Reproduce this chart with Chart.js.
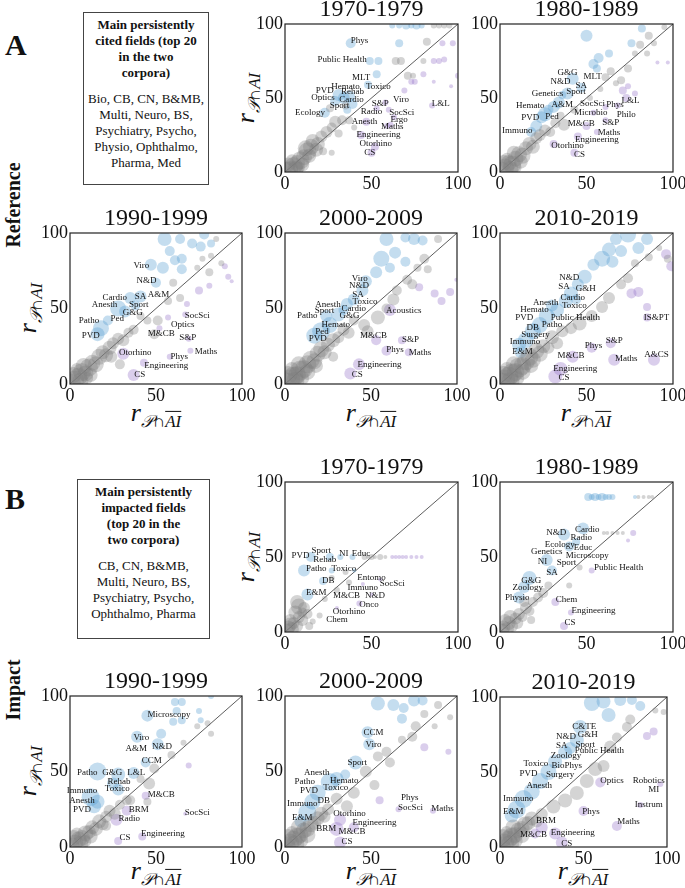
<!DOCTYPE html>
<html>
<head>
<meta charset="utf-8">
<script src="https://cdn.jsdelivr.net/npm/chart.js"></script>
<style>
  body { margin: 0; background: #fff; }
  #page { position: relative; width: 685px; height: 888px; font-family: "Liberation Serif", serif; color: #111; }
  .sec { position: absolute; font-weight: bold; font-size: 30px; }
  .side { position: absolute; font-weight: bold; font-size: 20px; transform: translate(-50%, -50%) rotate(-90deg); white-space: nowrap; }
  .box { position: absolute; border: 1.5px solid #444; box-sizing: border-box; text-align: center; font-size: 13px; line-height: 16px; padding-top: 4px; }
  .box b { display: block; margin-bottom: 10px; }
  .ax { position: absolute; white-space: nowrap; font-size: 26px; font-style: italic; transform: translate(-50%, -50%); }
  .ax.v { transform: translate(-50%, -50%) rotate(-90deg); }
  .ax sub { font-size: 17px; }
  .ov { text-decoration: overline; }
</style>
</head>
<body>
<div id="page">
  <div class="sec" style="left:5px;top:28px">A</div>
  <div class="side" style="left:13px;top:205px">Reference</div>
  <div class="sec" style="left:5px;top:482px">B</div>
  <div class="side" style="left:13px;top:690px">Impact</div>

  <div class="box" style="left:83px;top:12px;width:126px;height:173px">
    <b>Main persistently<br>cited fields (top 20<br>in the two<br>corpora)</b>
    Bio, CB, CN, B&amp;MB,<br>Multi, Neuro, BS,<br>Psychiatry, Psycho,<br>Physio, Ophthalmo,<br>Pharma, Med
  </div>
  <div class="box" style="left:77px;top:479px;width:133px;height:160px">
    <b>Main persistently<br>impacted fields<br>(top 20 in the<br>two corpora)</b>
    CB, CN, B&amp;MB,<br>Multi, Neuro, BS,<br>Psychiatry, Psycho,<br>Ophthalmo, Pharma
  </div>

  <div class="ax v" style="left:248px;top:98px">r<sub>𝒫∩AI</sub></div>
  <div class="ax v" style="left:30px;top:308px">r<sub>𝒫∩AI</sub></div>
  <div class="ax v" style="left:248px;top:557px">r<sub>𝒫∩AI</sub></div>
  <div class="ax v" style="left:30px;top:771px">r<sub>𝒫∩AI</sub></div>
  <div class="ax" style="left:156px;top:415px">r<sub>𝒫∩<span class="ov">AI</span></sub></div>
  <div class="ax" style="left:371px;top:415px">r<sub>𝒫∩<span class="ov">AI</span></sub></div>
  <div class="ax" style="left:586px;top:415px">r<sub>𝒫∩<span class="ov">AI</span></sub></div>
  <div class="ax" style="left:156px;top:873px">r<sub>𝒫∩<span class="ov">AI</span></sub></div>
  <div class="ax" style="left:371px;top:873px">r<sub>𝒫∩<span class="ov">AI</span></sub></div>
  <div class="ax" style="left:583px;top:873px">r<sub>𝒫∩<span class="ov">AI</span></sub></div>
</div>
<script>
// axis range and ticks shared by every panel
var axisMin = 0, axisMax = 100, tickStep = 50;
var diag = [0, 100];

// ---- A (Reference) ----  points are [x, y, r]
var a70Grey = [[1,1,9],[3,2,8],[5,4,9],[7,6,8],[9,8,9],[11,10,8],[13,14,9],[15,17,8],[16,21,7],[19,19,7],[21,24,6],[24,27,6],[27,30,5],[29,34,6],[33,35,5],[37,35,4],[31,26,4],[40,30,3],[22,14,4],[27,13,3],[4,8,6],[8,3,6],[2,5,7],[6,2,8],[10,5,7],[12,16,8],[14,11,7],[18,15,7],[64,75,4],[67,75,4],[80,75,3],[82,88,4],[71,65,4],[74,65,3],[86,99,3],[89,99,3],[92,99,3],[95,99,3],[35,45,4],[26,43,4]];
var a70Blue = [[62,99,3],[66,99,3],[70,99,4],[73,99,3],[76,99,4],[79,99,3],[38,87,5],[66,87,4],[49,75,4],[54,75,4],[53,66,4],[48,59,4],[31,52,6],[34,50,6],[37,51,6],[29,48,5],[39,46,5],[23,40,5],[36,42,4]];
var a70Purple = [[91,87,3],[97,87,3],[86,75,3],[89,75,3],[92,76,3],[80,66,3],[73,61,3],[75,61,3],[86,61,2],[69,55,3],[100,65,3],[96,58,2],[53,43,3],[60,42,3],[63,37,3],[59,31,3],[47,34,4],[44,25,4],[52,17,4],[50,13,4],[61,32,3],[85,45,3],[58,47,3]];
var a70Names = [['Phys',43,89],['Public Health',33,76],['MLT',44,64],['Hemato',35,58],['Toxico',54,58],['PVD',23,55],['Rehab',39,54],['Optics',22,50],['Cardio',38.5,49],['Sport',31.5,45],['Ecology',14.5,40],['S&P',55,46],['Viro',67,49],['L&L',90,46],['Radio',50,41],['SocSci',67.5,40],['Anesth',46,34],['Ergo',66,35.5],['Maths',62,30.5],['Engineering',54,25],['Otorhino',52.5,19],['CS',49,13]];

var a80Grey = [[1,1,9],[3,3,9],[5,6,8],[7,5,9],[9,9,8],[11,12,8],[13,11,8],[15,16,7],[17,19,7],[19,17,7],[21,23,6],[23,25,6],[26,28,6],[29,27,5],[32,33,5],[37,32,6],[35,38,4],[43,42,4],[4,9,6],[9,3,6],[2,6,8],[6,2,8],[12,7,7],[8,13,7],[95,98,3],[86,92,4],[81,86,4],[89,87,3],[85,80,3],[78,80,3],[74,70,4],[64,68,4],[61,64,4],[70,62,4],[67,60,3],[58,56,3],[52,50,3]];
var a80Blue = [[50,92,6],[82,97,4],[76,87,4],[63,80,4],[57,77,5],[54,73,5],[56,70,4],[42,63,6],[47,57,5],[39,53,6],[34,47,6],[31,44,6],[26,39,7],[24,37,6],[21,31,6],[18,27,5],[28,42,5],[36,52,4]];
var a80Purple = [[91,74,2],[97,74,2],[74,58,3],[71,55,4],[78,53,3],[73,50,4],[68,45,3],[54,40,3],[61,44,3],[50,31,4],[61,35,3],[56,27,3],[45,24,4],[31,19,4],[43,13,4]];
var a80Names = [['G&G',39,67],['N&D',35,61],['MLT',53.5,64.5],['SA',47,58.5],['Genetics',27.5,53],['Sport',44,54],['Hemato',17.5,44.5],['A&M',36,45.5],['SocSci',53.5,46.5],['Phys',66.5,45.5],['L&L',75.5,48.5],['Microbio',52.5,40],['Philo',73,39],['PVD',17.5,36.5],['Ped',30,37.5],['M&CB',47,33],['S&P',64,33.5],['Immuno',10,28],['Maths',63,26.5],['Engineering',56,22],['Otorhino',39,17.5],['CS',46,11.5]];

var a90Grey = [[1,1,9],[3,3,9],[5,5,9],[7,8,9],[9,7,8],[11,11,9],[13,14,8],[15,13,8],[17,18,8],[19,21,7],[21,19,7],[23,24,7],[25,27,6],[28,30,6],[31,29,6],[34,34,5],[37,36,5],[24,18,6],[29,13,5],[4,10,6],[10,4,6],[2,6,8],[6,2,8],[8,12,8],[12,6,7],[85,96,3],[82,85,3],[77,83,3],[81,74,4],[74,77,3],[60,67,4],[64,57,4],[57,55,4],[51,42,5],[45,42,4],[49,33,5],[41,45,4],[88,80,3]];
var a90Blue = [[55,96,7],[64,96,5],[71,93,5],[78,99,5],[76,91,5],[82,93,4],[58,88,5],[61,82,5],[65,83,5],[54,77,6],[65,76,5],[47,79,6],[50,67,5],[41,58,6],[35,57,6],[28,50,8],[32,48,6],[38,52,5],[18,37,8],[16,33,7],[22,42,5]];
var a90Purple = [[90,78,3],[92,71,3],[94,68,2],[81,65,3],[75,62,4],[68,53,3],[67,46,3],[57,44,3],[52,37,3],[69,30,3],[70,22,3],[58,18,3],[31,20,6],[43,14,4],[37,6,6]];
var a90Names = [['Viro',41.5,78.5],['N&D',44.5,68.5],['SA',41,58],['A&M',51.5,59.5],['Cardio',26,57.5],['Anesth',20,52.5],['Sport',40,52.5],['G&G',36.5,47.5],['Ped',27.5,43.5],['Patho',11,42],['PVD',12,32],['SocSci',74,45.5],['Optics',65.5,39.5],['M&CB',53,33.5],['S&P',68.5,30.5],['Otorhino',38,21],['Phys',63.5,18],['Maths',79,21.5],['Engineering',56,12],['CS',40.5,6.5]];

var a00Grey = [[1,1,10],[3,3,10],[5,5,10],[7,6,9],[9,9,10],[11,10,9],[13,13,9],[15,16,9],[17,15,8],[19,20,8],[21,23,8],[23,21,7],[25,26,7],[28,29,7],[31,31,6],[34,36,6],[37,34,6],[4,10,7],[10,4,7],[2,6,9],[6,2,9],[8,13,8],[13,8,8],[18,12,7],[89,96,4],[81,83,5],[83,76,4],[77,77,4],[71,69,5],[74,66,5],[65,62,5],[63,56,6],[59,50,5],[54,44,7],[46,39,6],[48,35,6],[40,42,5],[28,18,5]];
var a00Blue = [[59,96,7],[70,97,5],[75,96,6],[80,95,5],[64,87,6],[56,83,8],[70,81,5],[61,77,5],[53,74,6],[47,68,6],[45,62,6],[40,56,6],[36,53,6],[31,46,7],[26,39,8],[21,35,9],[17,32,8],[24,45,6],[34,49,5]];
var a00Purple = [[99.6,69,2],[96,61,4],[91,55,4],[87,60,4],[78,64,4],[61,49,6],[53,29,5],[68,29,4],[59,22,5],[72,21,4],[43,13,6],[38,7,6]];
var a00Names = [['Viro',43.5,70],['N&D',43,65],['SA',42.5,59.5],['Toxico',46.5,54.5],['Anesth',25,52.5],['Cardio',40,50],['Sport',23,48.5],['G&G',37.5,45],['Patho',13,45],['Hemato',29.5,39.5],['Ped',21.5,34.5],['PVD',19,30],['Acoustics',69,48.5],['M&CB',51.5,32],['S&P',73,29.5],['Phys',64,22.5],['Maths',78.5,21],['Engineering',55,13],['CS',42,6.5]];

var a10Grey = [[1,1,10],[3,3,10],[5,5,10],[7,7,10],[9,8,9],[11,11,10],[13,12,9],[15,15,9],[17,18,9],[19,16,8],[21,22,8],[23,20,8],[25,25,7],[4,10,7],[10,4,7],[2,6,9],[6,2,9],[8,13,8],[13,8,8],[18,12,7],[97,83,4],[92,90,3],[74,70,5],[70,66,5],[63,57,6],[59,51,6],[53,45,6],[46,40,7],[41,37,6],[36,35,6],[30,31,7],[28,24,6],[33,27,6],[78,80,4],[86,84,4]];
var a10Blue = [[74,99,8],[85,96,6],[67,96,6],[80,90,6],[63,89,7],[70,88,6],[59,83,8],[65,81,6],[54,79,6],[49,71,7],[45,66,6],[41,60,7],[38,55,7],[33,49,7],[27,45,8],[23,39,8],[19,35,8],[15,29,8],[11,26,7],[12,21,6],[30,52,6],[44,56,5]];
var a10Purple = [[96,86,5],[99,78,5],[76,60,5],[80,61,5],[85,51,4],[85,44,4],[64,27,5],[53,24,5],[42,18,6],[66,16,6],[89,16,6],[35,10,7],[32,5,7]];
var a10Names = [['N&D',40,70.5],['SA',37,64.5],['G&H',49.5,63],['Cardio',42,57.5],['Anesth',26.5,54],['Toxico',43,52],['Hemato',20,49],['PVD',14,44],['Public Health',43.5,44],['DB',19,37.5],['Patho',30,39.5],['Surgery',20.5,32.5],['Immuno',14.5,28],['E&M',13,21.5],['IS&PT',90.5,44],['S&P',66,29],['Phys',54,25.5],['M&CB',41,18.5],['Maths',73,17],['A&CS',90.5,19.5],['Engineering',43.5,10.5],['CS',37,4]];

// ---- B (Impact) ----
var b70Grey = [[1,1,7],[2,3,7],[4,2,7],[5,6,6],[7,4,6],[3,8,6],[8,10,6],[8,17,8],[7,20,7],[11,16,6],[13,12,5],[16,7,3],[6,13,7],[3,5,7],[10,8,6],[23,22,3],[35,40,3],[37,33,3],[30,28,3],[27,36,3],[46,50,3],[48,50,2],[50,50,3],[52,50,2],[55,50,3],[58,50,2],[20,11,3],[14,4,4],[10,13,5]];
var b70Blue = [[15,50,5],[26,50,4],[32,50,3],[39,50,3],[11,41,6],[27,41,3],[22,34,4],[13,25,6],[40,41,2]];
var b70Purple = [[62,50,2],[64,50,2],[66,50,2],[68,50,2],[70,50,2],[73,50,2],[76,50,2],[79,50,2],[45,32,2],[43,19,3],[30,16,2],[50,25,2],[55,35,2]];
var b70Names = [['PVD',9,51],['Sport',21,54],['Rehab',23,48.5],['NI',34,52],['Educ',44,52],['Patho',18,42.5],['Toxico',34,42.5],['DB',25,34.5],['Entomo',50,36.5],['SocSci',62,32],['Immuno',45,29.5],['E&M',18,26],['M&CB',35.5,24],['N&D',52,24],['Onco',48.5,18],['Otorhino',37,13.5],['Chem',30,8.5]];

var b80Grey = [[1,1,7],[2,3,7],[4,2,7],[5,6,7],[7,4,6],[3,8,6],[9,9,6],[11,12,6],[13,10,5],[15,16,6],[17,14,5],[19,20,5],[22,23,5],[25,26,5],[28,31,4],[6,10,7],[10,6,6],[40,31,3],[46,43,3],[80,90,2],[83,90,2],[86,90,2],[88,90,2],[60,66,2],[62,66,2],[65,66,2],[68,66,2],[71,66,2],[18,8,4],[14,20,5]];
var b80Blue = [[51,90,4],[53,90,3],[55,90,4],[57,90,3],[59,90,4],[61,90,3],[63,90,3],[65,90,3],[78,90,2],[48,69,6],[37,65,6],[40,57,5],[27,48,6],[30,41,5],[17,36,7],[14,30,6],[11,23,6],[44,60,4]];
var b80Purple = [[77,66,3],[74,61,2],[53,41,3],[32,20,4],[41,13,3],[37,4,4]];
var b80Names = [['Cardio',50.5,68],['N&D',32.5,66],['Radio',47,63],['Ecology',34.5,58],['Educ',48,56],['Genetics',27,53.5],['Microscopy',50.5,51],['NI',24.5,47],['Sport',38.5,46.5],['Public Health',68.5,43],['SA',30,39.5],['G&G',18,34.5],['Zoology',16,29.5],['Physio',10,23],['Chem',38.5,21.5],['Engineering',54,14.5],['CS',40.5,6]];

var b90Grey = [[1,1,8],[3,3,8],[5,5,8],[7,6,8],[9,9,8],[11,10,7],[13,13,7],[15,12,7],[17,17,7],[19,15,6],[21,20,6],[23,24,6],[26,22,6],[21,14,5],[29,28,5],[33,31,5],[4,9,6],[9,4,6],[2,6,8],[6,2,8],[12,7,7],[82,75,3],[66,69,3],[59,61,4],[49,52,5],[46,42,6],[41,45,4],[45,30,4],[35,31,5],[80,82,3],[74,80,3]];
var b90Blue = [[61,96,4],[65,96,4],[82,100,3],[75,90,3],[62,90,4],[65,84,4],[76,84,3],[60,83,4],[45,87,6],[53,75,5],[39,73,6],[51,68,6],[44,56,5],[16,50,9],[28,48,7],[37,49,6],[25,42,6],[28,38,6],[12,33,9],[16,30,7],[14,27,7]];
var b90Purple = [[69,54,3],[44,34,4],[33,24,5],[27,18,6],[67,22,2],[42,7,4],[28,4,4]];
var b90Names = [['Microscopy',57.5,87.5],['Viro',41.5,72.5],['A&M',38.5,65],['N&D',53.5,66.5],['CCM',47.5,57],['Patho',10,49.5],['G&G',24.5,49.5],['L&L',38.5,49.5],['Rehab',28.5,43],['Immuno',7,37],['Toxico',27.5,38.5],['M&CB',53,35],['Anesth',7,31],['PVD',7,25],['BRM',40,25],['Radio',34.5,19],['SocSci',74,23],['Engineering',54,9],['CS',32,6]];

var b00Grey = [[1,1,9],[3,3,9],[5,5,9],[7,7,9],[9,8,8],[11,11,8],[13,12,8],[15,15,8],[17,16,7],[19,19,7],[21,22,7],[23,20,6],[25,25,6],[4,10,6],[10,4,6],[2,6,9],[6,2,9],[8,13,8],[13,8,8],[96,86,3],[89,94,4],[87,80,3],[76,80,5],[74,73,5],[59,63,5],[61,56,5],[54,60,5],[47,50,6],[52,41,5],[40,36,6],[36,27,6],[30,32,6],[68,71,4],[81,88,4]];
var b00Blue = [[54,95,7],[63,94,6],[75,97,6],[80,97,5],[69,92,5],[68,85,5],[48,76,6],[49,68,6],[41,56,7],[30,45,7],[26,43,9],[19,36,8],[16,30,8],[13,23,9],[9,17,6],[35,48,5]];
var b00Purple = [[81,66,4],[95,63,3],[55,31,4],[66,25,3],[86,24,3],[32,18,6],[30,12,7],[40,13,5],[32,3,6]];
var b00Names = [['CCM',51.5,76],['Viro',51.5,67.5],['Sport',42,56],['Anesth',18.5,49],['Hemato',34.5,44],['Patho',11.5,43.5],['PVD',14,37],['Toxico',29.5,39],['Phys',72.5,32.5],['SocSci',73,26],['Maths',91.5,25.5],['Immuno',10,29],['DB',22.5,30.5],['E&M',10,19.5],['Otorhino',37.5,22],['Engineering',52,16],['BRM',24,12],['M&CB',39,10],['CS',36,3.5]];

var b10Grey = [[1,1,9],[3,3,9],[5,5,9],[7,7,9],[9,8,8],[11,11,8],[13,12,8],[15,15,8],[17,16,7],[19,19,7],[4,10,6],[10,4,6],[2,6,9],[6,2,9],[8,13,8],[13,8,8],[98,90,3],[93,91,3],[78,85,5],[76,80,5],[70,73,5],[66,67,6],[62,54,6],[57,52,7],[52,44,7],[46,36,7],[39,31,7],[32,27,7],[25,22,6],[22,17,6]];
var b10Blue = [[55,96,8],[62,97,7],[72,98,6],[84,94,5],[65,88,7],[79,98,5],[48,80,7],[46,71,7],[39,63,7],[33,57,7],[29,50,8],[24,44,8],[19,37,8],[14,32,9],[10,25,9],[7,21,7],[42,66,6]];
var b10Purple = [[92,77,4],[88,74,4],[60,43,5],[96,42,3],[84,28,3],[50,24,5],[70,14,5],[25,13,6],[21,9,5],[33,9,6],[37,3,6]];
var b10Names = [['C&TE',50.5,80.5],['N&D',39.5,73.5],['G&H',52.5,75],['SA',37,67.5],['Sport',51,68.5],['Public Health',59.5,64],['Zoology',39.5,61],['Toxico',21.5,55.5],['BioPhys',40,54],['PVD',17,49],['Surgery',36,48],['Anesth',23.5,41],['Optics',67,44.5],['Robotics',89,44.5],['MI',92,38],['Instrum',89,28],['Immuno',11,32],['E&M',8,23.5],['Phys',54.5,23.5],['Maths',77,17],['BRM',27.5,17.5],['M&CB',20,8.5],['Engineering',43.5,9.5],['CS',40,2.5]];

// panel placement: plot-area box [left, top, right, bottom] in page pixels
var panels = [
  {box:[285,24,458,172], title:'1970-1979', grey:a70Grey, blue:a70Blue, purple:a70Purple, names:a70Names},
  {box:[500,24,673,172], title:'1980-1989', grey:a80Grey, blue:a80Blue, purple:a80Purple, names:a80Names},
  {box:[70,233,242,384], title:'1990-1999', grey:a90Grey, blue:a90Blue, purple:a90Purple, names:a90Names},
  {box:[285,233,457,384], title:'2000-2009', grey:a00Grey, blue:a00Blue, purple:a00Purple, names:a00Names},
  {box:[500,233,673,384], title:'2010-2019', grey:a10Grey, blue:a10Blue, purple:a10Purple, names:a10Names},
  {box:[285,482,458,632], title:'1970-1979', grey:b70Grey, blue:b70Blue, purple:b70Purple, names:b70Names},
  {box:[500,482,673,632], title:'1980-1989', grey:b80Grey, blue:b80Blue, purple:b80Purple, names:b80Names},
  {box:[70,696,242,847], title:'1990-1999', grey:b90Grey, blue:b90Blue, purple:b90Purple, names:b90Names},
  {box:[285,696,457,847], title:'2000-2009', grey:b00Grey, blue:b00Blue, purple:b00Purple, names:b00Names},
  {box:[500,697,667,847], title:'2010-2019', grey:b10Grey, blue:b10Blue, purple:b10Purple, names:b10Names}
];

var AXW = 40, TH = 30, XH = 22, RP = 16;
var serif = '"Liberation Serif", serif';

function pts(arr) {
  return arr.map(function (p) { return {x: p[0], y: p[1], r: p[2]}; });
}

// field names + frame around the plot area
function labelPlugin(names) {
  return {
    id: 'fieldLabels',
    afterDatasetsDraw: function (chart) {
      var ctx = chart.ctx, sx = chart.scales.x, sy = chart.scales.y, a = chart.chartArea;
      ctx.save();
      ctx.font = '9px ' + serif;
      ctx.fillStyle = '#111';
      ctx.textAlign = 'center';
      ctx.textBaseline = 'middle';
      names.forEach(function (n) {
        ctx.fillText(n[0], sx.getPixelForValue(n[1]), sy.getPixelForValue(n[2]));
      });
      ctx.strokeStyle = '#222';
      ctx.lineWidth = 1.2;
      ctx.strokeRect(a.left, a.top, a.right - a.left, a.bottom - a.top);
      ctx.restore();
    }
  };
}

var page = document.getElementById('page');
panels.forEach(function (p) {
  var w = p.box[2] - p.box[0] + AXW + RP;
  var h = p.box[3] - p.box[1] + TH + XH;
  var c = document.createElement('canvas');
  c.width = w; c.height = h;
  c.style.cssText = 'position:absolute;left:' + (p.box[0] - AXW) + 'px;top:' + (p.box[1] - TH) + 'px;width:' + w + 'px;height:' + h + 'px';
  page.appendChild(c);

  new Chart(c.getContext('2d'), {
    type: 'bubble',
    data: {
      datasets: [
        {data: pts(p.grey), backgroundColor: 'rgba(125,125,125,0.33)', borderWidth: 0},
        {data: pts(p.purple), backgroundColor: 'rgba(150,115,200,0.35)', borderWidth: 0},
        {data: pts(p.blue), backgroundColor: 'rgba(85,158,210,0.35)', borderWidth: 0},
        {type: 'line', data: [{x: diag[0], y: diag[0]}, {x: diag[1], y: diag[1]}], borderColor: '#333', borderWidth: 0.8, pointRadius: 0, fill: false}
      ]
    },
    options: {
      responsive: false,
      animation: false,
      layout: {padding: {left: 0, top: 0, right: RP, bottom: 0}},
      plugins: {
        legend: {display: false},
        tooltip: {enabled: false},
        title: {display: true, text: p.title, fullSize: false, color: '#111',
                font: {family: serif, size: 24, weight: 'normal', lineHeight: 1},
                padding: {top: 4, bottom: 2}}
      },
      scales: {
        x: {type: 'linear', min: axisMin, max: axisMax,
            ticks: {stepSize: tickStep, color: '#111', font: {family: serif, size: 18}, padding: 1, maxRotation: 0},
            grid: {display: false, drawTicks: false}, border: {display: false},
            afterFit: function (s) { s.height = XH; }},
        y: {type: 'linear', min: axisMin, max: axisMax,
            ticks: {stepSize: tickStep, color: '#111', font: {family: serif, size: 18}, padding: 2},
            grid: {display: false, drawTicks: false}, border: {display: false},
            afterFit: function (s) { s.width = AXW; }}
      }
    },
    plugins: [labelPlugin(p.names)]
  });
});
</script>
</body>
</html>
